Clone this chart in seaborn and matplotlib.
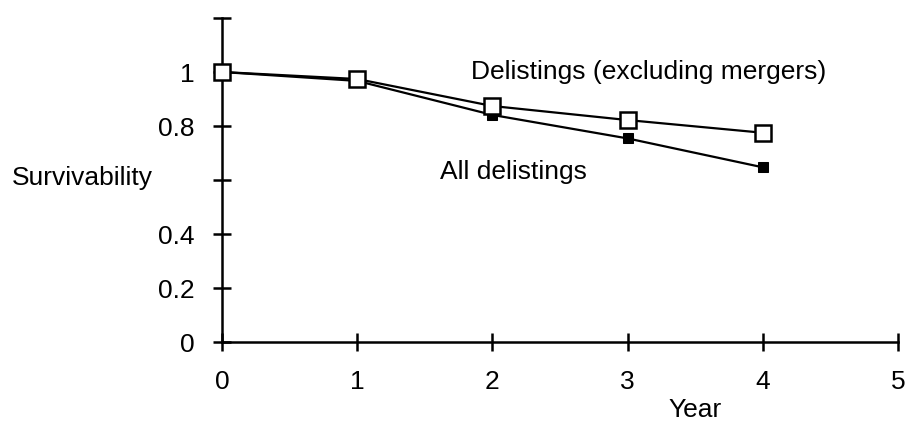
import matplotlib
matplotlib.use("Agg")
import matplotlib.pyplot as plt
import seaborn as sns
import pandas as pd

# dane
years = [0, 1, 2, 3, 4]
excl_mergers = [1.0, 0.974, 0.874, 0.822, 0.775]
all_delistings = [1.0, 0.967, 0.841, 0.754, 0.647]

y_ticks = [0, 0.2, 0.4, 0.6, 0.8, 1.0, 1.2]
y_ticklabels = ["0", "0.2", "0.4", "", "0.8", "1", ""]
x_ticks = [0, 1, 2, 3, 4, 5]

sns.set_style("white")
plt.rcParams['font.family'] = ['Liberation Sans', 'DejaVu Sans']
plt.rcParams['text.color'] = 'black'

df = pd.DataFrame({"Year": years, "excl": excl_mergers, "all": all_delistings})

fig = plt.figure(figsize=(9.05, 4.23), dpi=100)
ax = fig.add_axes([222 / 905, 1 - 342 / 423, 676 / 905, 324 / 423])

sns.lineplot(data=df, x="Year", y="all", ax=ax, color="black", lw=1.6,
             marker="s", markersize=7, markerfacecolor="black",
             markeredgecolor="black", zorder=3, clip_on=False)
sns.lineplot(data=df, x="Year", y="excl", ax=ax, color="black", lw=1.6,
             marker="s", markersize=11, markerfacecolor="white",
             markeredgecolor="black", markeredgewidth=1.8, zorder=4, clip_on=False)

ax.set_xlim(0, 5)
ax.set_ylim(0, 1.2)
ax.set_xticks(x_ticks)
ax.set_yticks(y_ticks)
ax.set_yticklabels(y_ticklabels)
ax.set_xlabel("")
ax.set_ylabel("")

for s in ["top", "right"]:
    ax.spines[s].set_visible(False)
for s in ["left", "bottom"]:
    ax.spines[s].set_linewidth(1.8)
    ax.spines[s].set_color("black")

ax.tick_params(axis="both", direction="inout", length=13, width=1.8,
               labelsize=19, colors="black", bottom=True, left=True)
ax.tick_params(axis="x", pad=14)
ax.tick_params(axis="y", pad=13)

ax.text(1.842, 1.0, "Delistings (excluding mergers)", fontsize=19, va="center", ha="left")
ax.text(1.612, 0.63, "All delistings", fontsize=19, va="center", ha="left")

fig.text(695 / 905, 1 - 410 / 423, "Year", fontsize=19, ha="center", va="center")
fig.text(12 / 905, 1 - 178 / 423, "Survivability", fontsize=19, ha="left", va="center")

fig.savefig("out.png", dpi=100)
